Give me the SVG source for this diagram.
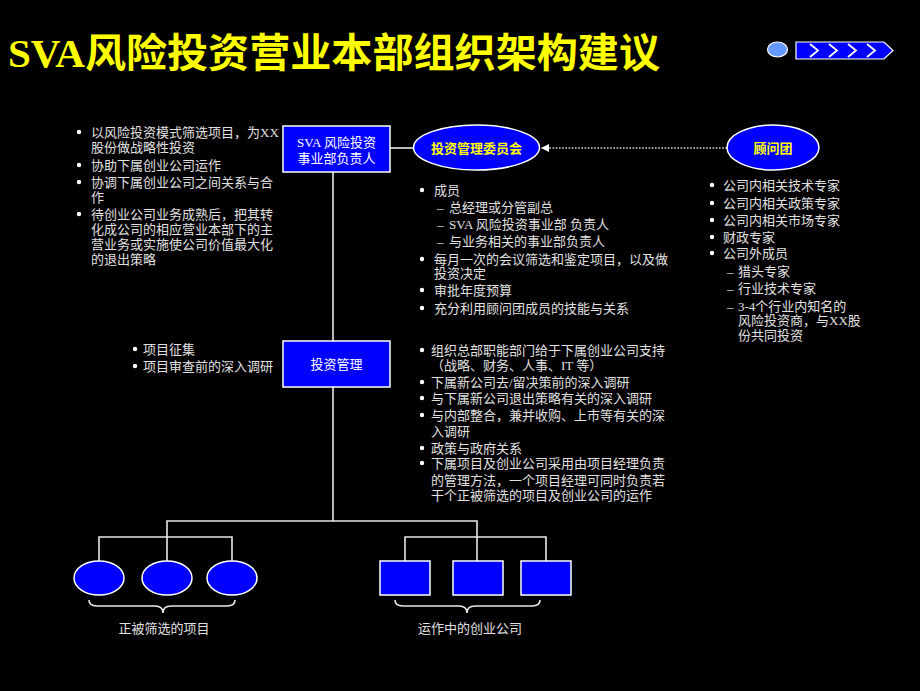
<svg xmlns="http://www.w3.org/2000/svg" width="920" height="691" viewBox="0 0 920 691">
<defs>
<style>
.t{font-family:"Liberation Serif","Noto Sans CJK SC",serif;font-size:13px;fill:#e0e0e0}
.c{text-anchor:middle}
.y{fill:#ffff00;font-weight:bold}
.w{fill:#ffffff}
.ln{stroke:#e8e8e8;stroke-width:1.6;fill:none}
.nd{fill:#0000ff;stroke:#ffffff;stroke-width:1.5}
.b{fill:#ffffff}
</style>
<marker id="ah" viewBox="0 0 10 10" refX="10" refY="5" markerWidth="8" markerHeight="8" markerUnits="userSpaceOnUse" orient="auto">
<path d="M0,0 L10,5 L0,10 z" fill="#ffffff"/>
</marker>
</defs>
<rect width="920" height="691" fill="#000000"/>

<text x="8" y="67" font-family="Liberation Serif, Noto Sans CJK SC, serif" font-size="40" font-weight="bold" fill="#ffff00" textLength="652" lengthAdjust="spacingAndGlyphs">SVA风险投资营业本部组织架构建议</text>

<g id="nav-icon">
<ellipse cx="777.5" cy="49.5" rx="10" ry="7.5" fill="#6699ff" stroke="#ffffff" stroke-width="1.2"/>
<path d="M796,42 L884,42 L893,50.5 L884,59 L796,59 z" fill="#0000ff" stroke="#ffffff" stroke-width="1.2"/>
<path d="M810,44 L818,50.5 L810,57 M829,44 L837,50.5 L829,57 M848,44 L856,50.5 L848,57 M867,44 L875,50.5 L867,57" stroke="#ffffff" stroke-width="1.8" fill="none"/>
</g>

<g id="connectors">
<line class="ln" x1="390" y1="148" x2="413" y2="148"/>
<line x1="727" y1="148" x2="541" y2="148" stroke="#dddddd" stroke-width="1.6" stroke-dasharray="1.6 1.6" marker-end="url(#ah)"/>
<line class="ln" x1="333" y1="172" x2="333" y2="341"/>
<line class="ln" x1="333" y1="387" x2="333" y2="521"/>
<polyline class="ln" points="167,561 167,521 477,521 477,561"/>
<polyline class="ln" points="99,561 99,537 232,537 232,561"/>
<polyline class="ln" points="405,561 405,537 546,537 546,561"/>
<path class="ln" d="M89,600 Q89,606 97,606 L155,606 Q163,606 163,613 Q163,606 171,606 L227,606 Q235,606 235,600"/>
<path class="ln" d="M395,600 Q395,606 403,606 L459,606 Q467,606 467,613 Q467,606 475,606 L532,606 Q540,606 540,600"/>
</g>

<g id="head">
<rect class="nd" x="283" y="126" width="107" height="46"/>
<text class="t c w" x="336.5" y="147">SVA 风险投资</text>
<text class="t c w" x="336.5" y="163">事业部负责人</text>
</g>

<g id="committee">
<ellipse class="nd" cx="476.5" cy="147.5" rx="63" ry="22.5"/>
<text class="t c y" x="476.5" y="152.5">投资管理委员会</text>
</g>

<g id="advisors">
<ellipse class="nd" cx="773" cy="147.5" rx="46" ry="22.5"/>
<text class="t c y" x="773" y="152.5">顾问团</text>
</g>

<g id="invest-mgmt">
<rect class="nd" x="283" y="341" width="107" height="46"/>
<text class="t c w" x="336.5" y="369">投资管理</text>
</g>

<g id="projects">
<ellipse class="nd" cx="99" cy="578" rx="25" ry="17"/>
<ellipse class="nd" cx="167" cy="578" rx="25" ry="17"/>
<ellipse class="nd" cx="232" cy="578" rx="25" ry="17"/>
<text class="t c" x="164" y="633">正被筛选的项目</text>
</g>

<g id="companies">
<rect class="nd" x="380" y="561" width="50" height="34"/>
<rect class="nd" x="453" y="561" width="50" height="34"/>
<rect class="nd" x="521" y="561" width="50" height="34"/>
<text class="t c" x="470" y="633">运作中的创业公司</text>
</g>

<g id="left-notes">
<circle class="b" cx="79" cy="132" r="2.2"/>
<circle class="b" cx="79" cy="165" r="2.2"/>
<circle class="b" cx="79" cy="182" r="2.2"/>
<circle class="b" cx="79" cy="214" r="2.2"/>
<text class="t" x="91" y="137">以风险投资模式筛选项目，为XX</text>
<text class="t" x="91" y="152">股份做战略性投资</text>
<text class="t" x="91" y="170">协助下属创业公司运作</text>
<text class="t" x="91" y="187">协调下属创业公司之间关系与合</text>
<text class="t" x="91" y="202">作</text>
<text class="t" x="91" y="219">待创业公司业务成熟后，把其转</text>
<text class="t" x="91" y="234">化成公司的相应营业本部下的主</text>
<text class="t" x="91" y="249">营业务或实施使公司价值最大化</text>
<text class="t" x="91" y="264">的退出策略</text>
</g>

<g id="committee-notes">
<circle class="b" cx="422" cy="190" r="2.2"/>
<circle class="b" cx="422" cy="259" r="2.2"/>
<circle class="b" cx="422" cy="290" r="2.2"/>
<circle class="b" cx="422" cy="308" r="2.2"/>
<text class="t" x="434" y="195">成员</text>
<text class="t" x="437" y="212">–</text><text class="t" x="449" y="212">总经理或分管副总</text>
<text class="t" x="437" y="229">–</text><text class="t" x="449" y="229">SVA 风险投资事业部 负责人</text>
<text class="t" x="437" y="246">–</text><text class="t" x="449" y="246">与业务相关的事业部负责人</text>
<text class="t" x="434" y="264">每月一次的会议筛选和鉴定项目，以及做</text>
<text class="t" x="434" y="278">投资决定</text>
<text class="t" x="434" y="295">审批年度预算</text>
<text class="t" x="434" y="313">充分利用顾问团成员的技能与关系</text>
</g>

<g id="advisor-notes">
<circle class="b" cx="712" cy="185" r="2.2"/>
<circle class="b" cx="712" cy="203" r="2.2"/>
<circle class="b" cx="712" cy="220" r="2.2"/>
<circle class="b" cx="712" cy="237" r="2.2"/>
<circle class="b" cx="712" cy="253" r="2.2"/>
<text class="t" x="723" y="190">公司内相关技术专家</text>
<text class="t" x="723" y="208">公司内相关政策专家</text>
<text class="t" x="723" y="225">公司内相关市场专家</text>
<text class="t" x="723" y="242">财政专家</text>
<text class="t" x="723" y="258">公司外成员</text>
<text class="t" x="727" y="276">–</text><text class="t" x="738" y="276">猎头专家</text>
<text class="t" x="727" y="293">–</text><text class="t" x="738" y="293">行业技术专家</text>
<text class="t" x="727" y="311">–</text><text class="t" x="738" y="311">3-4个行业内知名的</text>
<text class="t" x="738" y="325">风险投资商，与XX股</text>
<text class="t" x="738" y="340">份共同投资</text>
</g>

<g id="mgmt-notes-left">
<circle class="b" cx="135" cy="349" r="2.2"/>
<circle class="b" cx="135" cy="366" r="2.2"/>
<text class="t" x="143" y="354">项目征集</text>
<text class="t" x="143" y="371">项目审查前的深入调研</text>
</g>

<g id="mgmt-notes-right">
<circle class="b" cx="422" cy="350" r="2.2"/>
<circle class="b" cx="422" cy="382" r="2.2"/>
<circle class="b" cx="422" cy="398" r="2.2"/>
<circle class="b" cx="422" cy="415" r="2.2"/>
<circle class="b" cx="422" cy="448" r="2.2"/>
<circle class="b" cx="422" cy="463" r="2.2"/>
<text class="t" x="431" y="355">组织总部职能部门给于下属创业公司支持</text>
<text class="t" x="431" y="370">（战略、财务、人事、IT 等）</text>
<text class="t" x="431" y="387">下属新公司去/留决策前的深入调研</text>
<text class="t" x="431" y="403">与下属新公司退出策略有关的深入调研</text>
<text class="t" x="431" y="420">与内部整合，兼并收购、上市等有关的深</text>
<text class="t" x="431" y="436">入调研</text>
<text class="t" x="431" y="453">政策与政府关系</text>
<text class="t" x="431" y="468">下属项目及创业公司采用由项目经理负责</text>
<text class="t" x="431" y="485">的管理方法，一个项目经理可同时负责若</text>
<text class="t" x="431" y="500">干个正被筛选的项目及创业公司的运作</text>
</g>
</svg>
